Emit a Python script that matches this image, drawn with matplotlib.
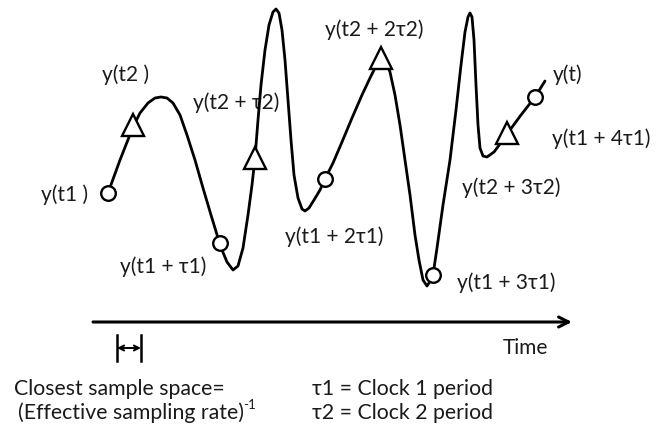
import matplotlib
matplotlib.use("Agg")
import matplotlib.pyplot as plt

plt.rcParams['font.family'] = ['Lato', 'DejaVu Sans']

curve_x = [108, 120, 133, 140, 148, 155, 161, 167, 173, 180, 187, 195, 203, 211, 218,
           222, 227, 233, 238, 243, 248, 252, 255, 258, 261, 265, 269, 273, 276, 279,
           282, 285, 288, 291, 294, 298, 302, 305, 309, 314, 320, 325, 333, 342, 352,
           362, 370, 377, 381, 386, 390, 395, 400, 405, 410, 415, 419, 423, 427, 431,
           433, 437, 443, 450, 456, 461, 465, 468, 470, 472, 474, 476, 478, 480, 483,
           487, 494, 500, 507, 521, 535, 545]
curve_y = [193, 160, 127, 113, 103, 98, 97, 98, 103, 115, 135, 160, 188, 215, 238,
           250, 262, 270, 266, 248, 215, 185, 158, 120, 85, 50, 25, 12, 9, 13,
           30, 60, 100, 140, 175, 198, 209, 211, 208, 200, 190, 179, 163, 142, 118,
           95, 78, 64, 58, 62, 72, 95, 125, 160, 195, 235, 260, 280, 286, 280,
           275, 248, 205, 160, 110, 65, 32, 17, 13, 17, 40, 85, 125, 148, 156,
           157, 152, 144, 134, 115, 97, 81]

# clock 1 samples (circles) and clock 2 samples (triangles)
clk1_x = [108, 220, 325, 433, 535]
clk1_y = [193, 243, 179, 275, 97]
clk2_x = [133, 255, 381, 507]
clk2_y = [125, 158, 58, 133]

labels = ["y(t1 )", "y(t2 )", "y(t2 + τ2)", "y(t1 + τ1)", "y(t1 + 2τ1)",
          "y(t2 + 2τ2)", "y(t)", "y(t1 + 4τ1)", "y(t2 + 3τ2)", "y(t1 + 3τ1)"]
label_pos = [(41, 195), (102, 75), (193, 103), (120, 267), (285, 237),
             (325, 30), (553, 75), (552, 139), (462, 188), (457, 283)]

ink = '#1a1a1a'

fig = plt.figure(figsize=(6.69, 4.32), dpi=100)
ax = fig.add_axes([0, 0, 1, 1])
ax.set_xlim(0, 669)
ax.set_ylim(432, 0)
ax.axis('off')

ax.plot(curve_x, curve_y, color='black', lw=2.0, solid_capstyle='round', zorder=2)
ax.plot(clk1_x, clk1_y, 'o', ms=10.5, mfc='white', mec='black', mew=1.7, zorder=3)
ax.plot(clk2_x, clk2_y, '^', ms=16, mfc='white', mec='black', mew=1.7, zorder=3)

for txt, (x, y) in zip(labels, label_pos):
    ax.text(x, y, txt, fontsize=15, ha='left', va='center', color=ink, zorder=1)

# time axis
ax.annotate('', xy=(572, 322), xytext=(93, 322),
            arrowprops=dict(arrowstyle='->', lw=2.2, color='black',
                            mutation_scale=18, shrinkA=0, shrinkB=0))
ax.text(503, 348, "Time", fontsize=15, ha='left', va='center', color=ink)

# closest sample spacing marker
ax.plot([117, 117], [335, 361], color='black', lw=1.8)
ax.plot([141, 141], [335, 361], color='black', lw=1.8)
ax.annotate('', xy=(141, 348), xytext=(117, 348),
            arrowprops=dict(arrowstyle='<->', lw=1.4, color='black',
                            mutation_scale=9, shrinkA=0, shrinkB=0))

ax.text(14, 389, "Closest sample space=", fontsize=15.3, ha='left', va='center', color=ink)
rate = ax.text(18, 413, "(Effective sampling rate)", fontsize=15.3, ha='left',
               va='center', color=ink)
ax.annotate("-1", xy=(1, 0.62), xycoords=rate, xytext=(-0.5, 0),
            textcoords='offset points', fontsize=9.5, ha='left', va='bottom', color=ink)
ax.text(312, 389, "τ1 = Clock 1 period", fontsize=15.3, ha='left', va='center', color=ink)
ax.text(312, 413, "τ2 = Clock 2 period", fontsize=15.3, ha='left', va='center', color=ink)

fig.savefig("out.png", dpi=100, facecolor='white')
